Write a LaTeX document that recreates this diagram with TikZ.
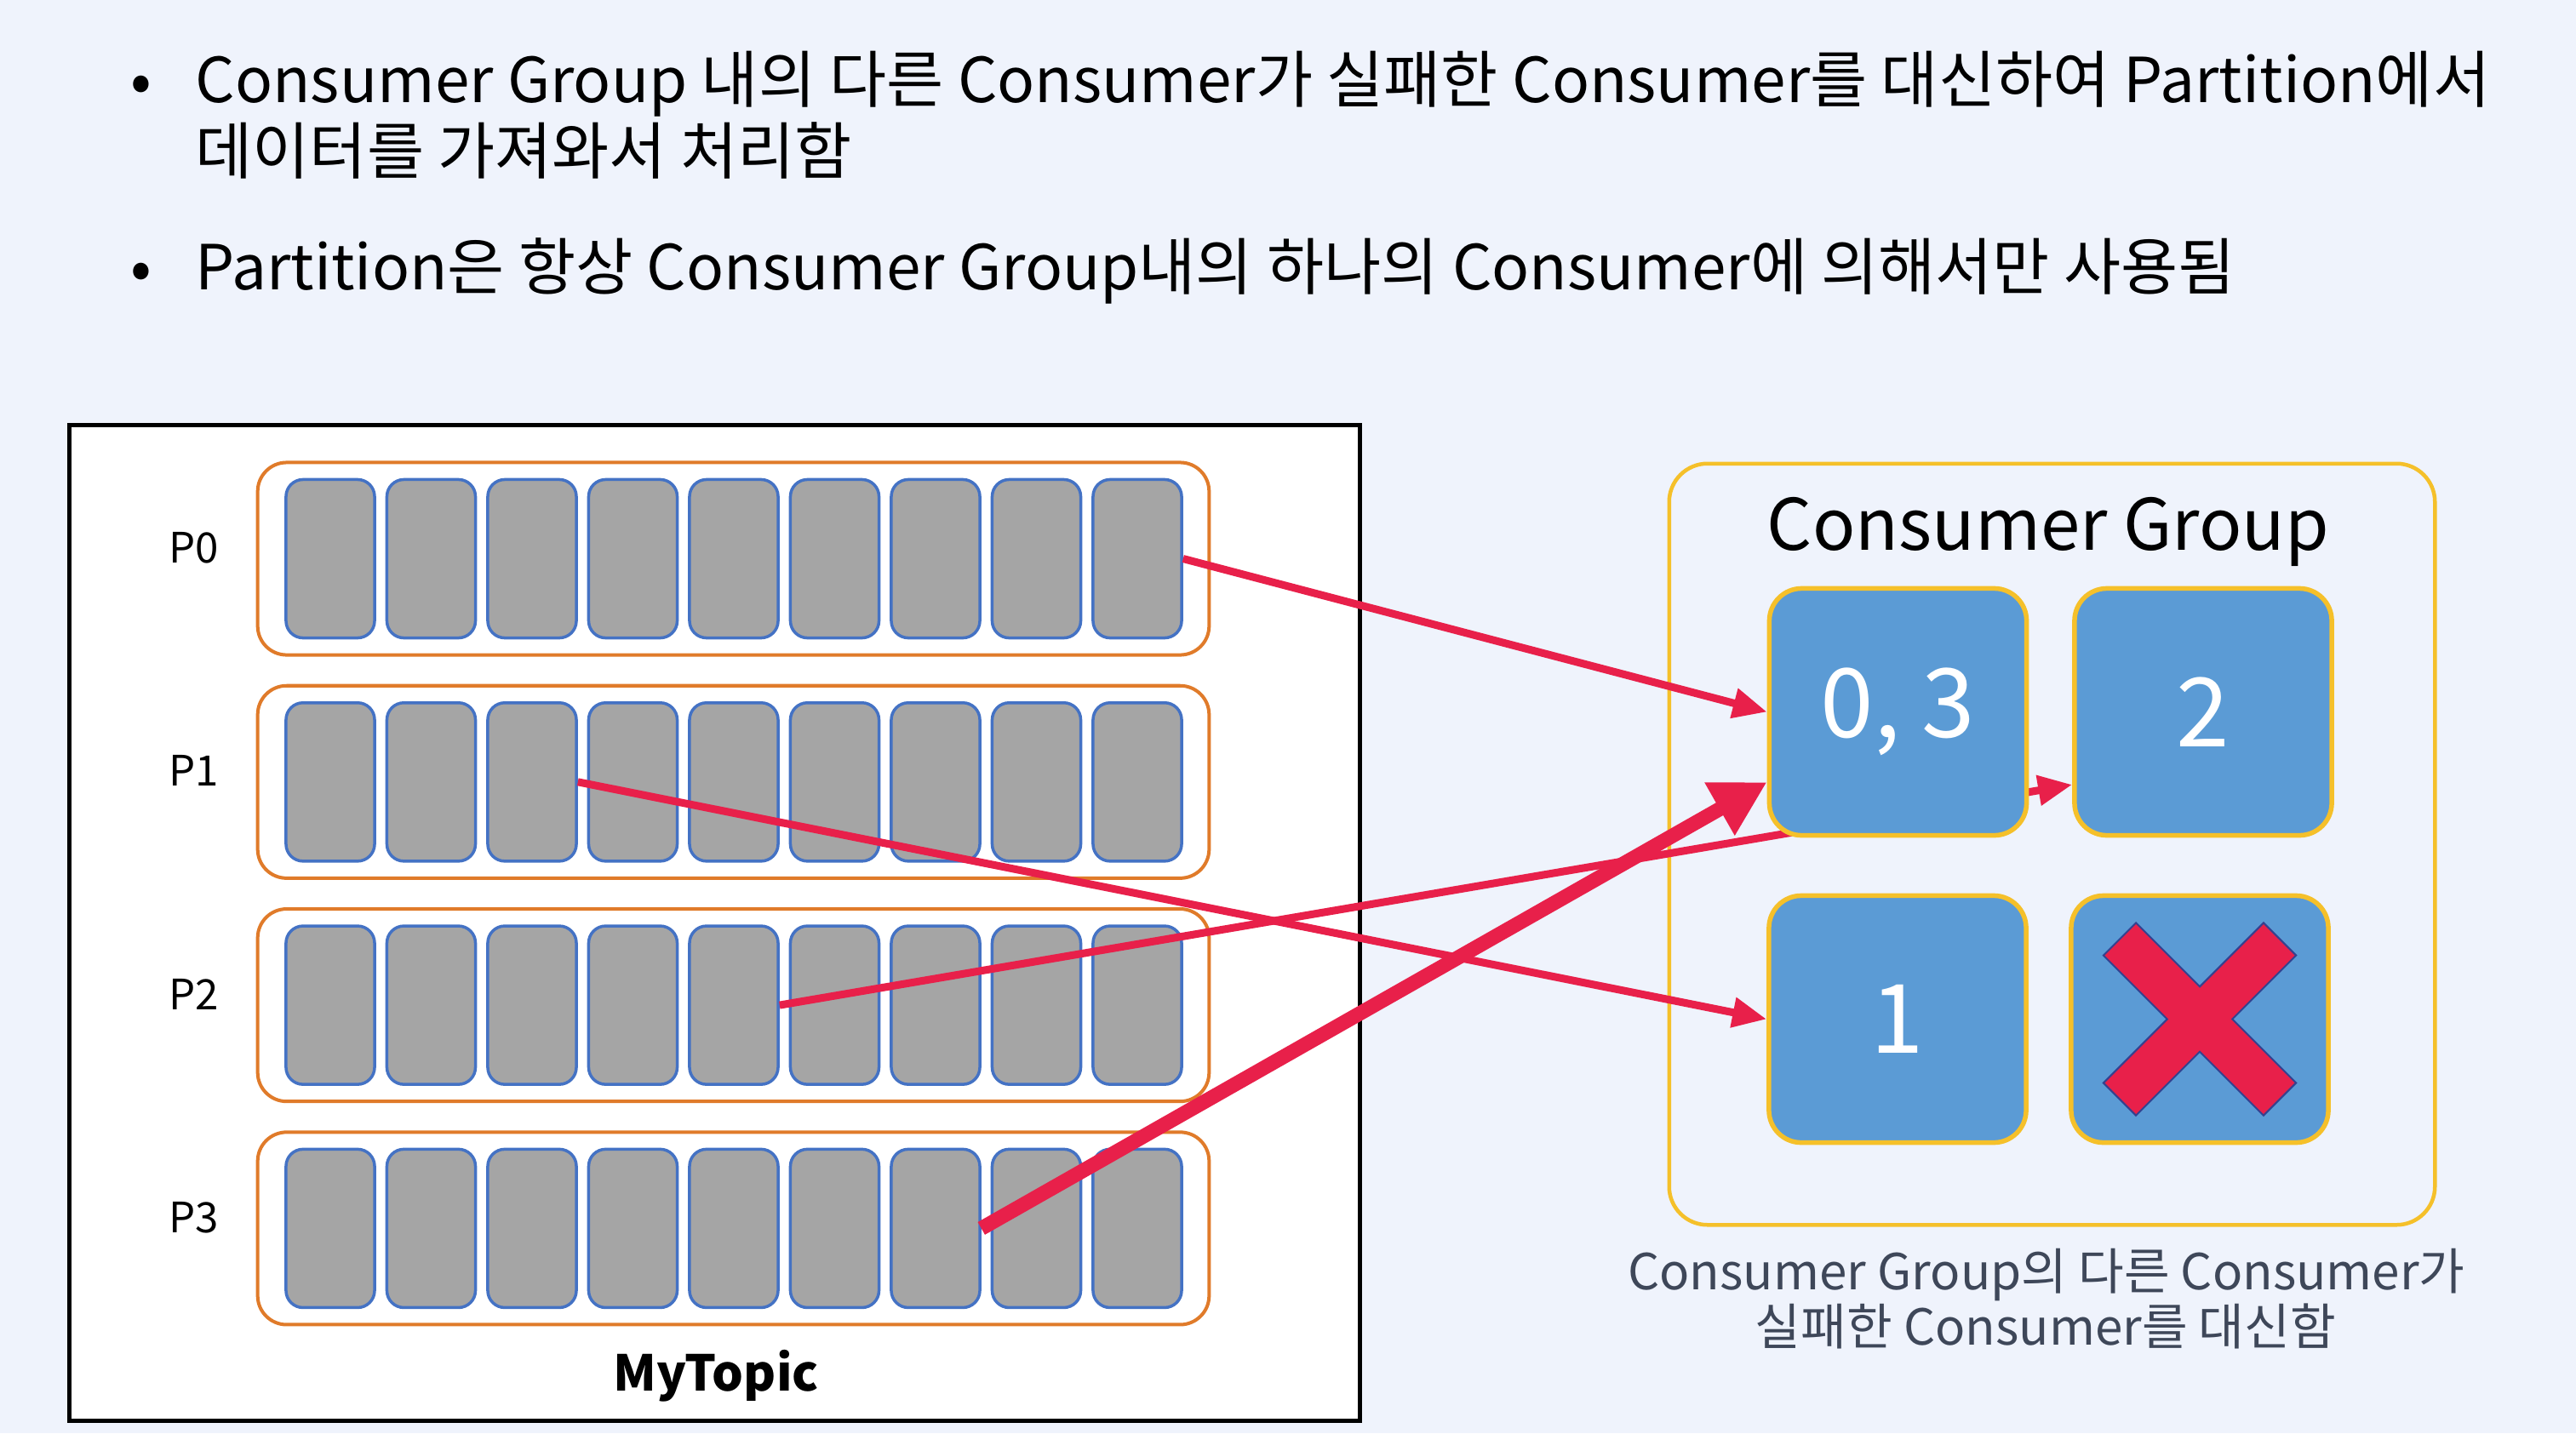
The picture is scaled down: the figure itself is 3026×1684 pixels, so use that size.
\documentclass[tikz,border=0pt]{standalone}
\usepackage{fontspec}
\setmainfont{Noto Sans CJK KR}
\usepackage{tikz}
\usetikzlibrary{positioning, calc, arrows.meta}
\definecolor{SlideBg}{HTML}{EFF3FC}
\definecolor{PartOrange}{HTML}{E07B2A}
\definecolor{CellBlue}{HTML}{4472C4}
\definecolor{CellGray}{HTML}{A5A5A5}
\definecolor{ConsBlue}{HTML}{5B9BD5}
\definecolor{ConsGold}{HTML}{F5C02A}
\definecolor{ArrowRed}{HTML}{E8204A}
\definecolor{CrossEdge}{HTML}{34418F}
\definecolor{NoteGray}{HTML}{3E4759}

\pgfdeclarelayer{front}
\pgfsetlayers{main,front}

\tikzset{
  bullettext/.style={font=\fontsize{20.75}{24}\selectfont, inner sep=0pt},
  partlabel/.style={font=\fontsize{14}{16}\selectfont, inner sep=0pt, anchor=base},
  partbox/.style={draw=PartOrange, line width=0.04cm, fill=white, rounded corners=0.34cm,
                  minimum width=11.17cm, minimum height=2.26cm, inner sep=0pt},
  cellbox/.style={draw=CellBlue, line width=0.035cm, fill=CellGray, rounded corners=0.2cm,
                  minimum width=1.04cm, minimum height=1.86cm, inner sep=0pt},
  consbox/.style={draw=ConsGold, line width=0.055cm, fill=ConsBlue, rounded corners=0.38cm,
                  minimum width=3.02cm, minimum height=2.9cm, inner sep=0pt,
                  text=white, font=\fontsize{32}{36}\selectfont},
  feed/.style={draw=ArrowRed, line width=0.09cm, -{Triangle[length=0.4cm, width=0.34cm]}},
  feedbold/.style={draw=ArrowRed, line width=0.17cm, -{Triangle[length=0.64cm, width=0.67cm]}},
}

\begin{document}
\begin{tikzpicture}[x=0.01cm, y=-0.01cm]
\fill[SlideBg] (0,0) rectangle (3026,1684);
\useasboundingbox (0,0) rectangle (3026,1684);

% bullets
\node[bullettext, anchor=base] (dot1) at (166,120) {•};
\node[bullettext, anchor=base west] (b1) at (229,120) {Consumer Group 내의 다른 Consumer가 실패한 Consumer를 대신하여 Partition에서};
\node[bullettext, anchor=base west] (b1x) at (229,204) {데이터를 가져와서 처리함};
\node[bullettext, anchor=base] (dot2) at (166,340) {•};
\node[bullettext, anchor=base west] (b2) at (229,340) {Partition은 항상 Consumer Group내의 하나의 Consumer에 의해서만 사용됨};

% topic with partitions
\node[draw=black, line width=0.05cm, fill=white, minimum width=15.15cm, minimum height=11.69cm,
      inner sep=0pt] (topic) at (839.5,1084.5) {};
\foreach \r in {0,...,3} {
  \node[partbox] (part\r) at (861.5, {656.5+262.3*\r}) {};
  \node[partlabel] (lab\r) at (228, {661.5+262.3*\r}) {P\r};
  \foreach \c in {1,...,9}
    \node[cellbox] (p\r-\c) at ({388+118.5*(\c-1)}, {656.5+262.3*\r}) {};
}
\node[font=\fontsize{16.5}{19}\selectfont\bfseries, anchor=base, inner sep=0pt] (topicname) at (841,1634) {MyTopic};

% consumer group
\node[draw=ConsGold, line width=0.045cm, rounded corners=0.45cm, minimum width=8.99cm,
      minimum height=8.94cm, inner sep=0pt] (group) at (2410.5,992) {};
\node[font=\fontsize{23.7}{27}\selectfont, anchor=base, inner sep=0pt] (grouptitle) at (2406,646) {Consumer Group};

\begin{pgfonlayer}{front}
\node[consbox] (c03) at (2229.5,836.5) {0, 3};
\node[consbox] (c2) at (2588,836.5) {2};
\node[consbox] (c1) at (2229,1197.5) {1};
\node[consbox] (cx) at (2584,1197.5) {};
\begin{scope}[shift={(cx.center)}, rotate=45]
  \filldraw[fill=ArrowRed, draw=CrossEdge, line width=0.02cm]
    (133,27) -- (27,27) -- (27,133) -- (-27,133) -- (-27,27) -- (-133,27) -- (-133,-27)
    -- (-27,-27) -- (-27,-133) -- (27,-133) -- (27,-27) -- (133,-27) -- cycle;
\end{scope}
\end{pgfonlayer}

\node[font=\fontsize{16.6}{19}\selectfont, text=NoteGray, anchor=base, inner sep=0pt] (note1) at (2404,1515) {Consumer Group의 다른 Consumer가};
\node[font=\fontsize{16.6}{19}\selectfont, text=NoteGray, anchor=base, inner sep=0pt] (note2) at (2403,1580) {실패한 Consumer를 대신함};

% assignments
\draw[feed] (p0-9.east) -- (c03.west);
\draw[feed] (p1-3.east) -- (c1.west);
\draw[feed] (p2-5.east) -- ($(c2.west)+(0,85.5)$);
\draw[feedbold] (p3-7.east) -- ($(c03.west)+(0,82.5)$);
\end{tikzpicture}
\end{document}
